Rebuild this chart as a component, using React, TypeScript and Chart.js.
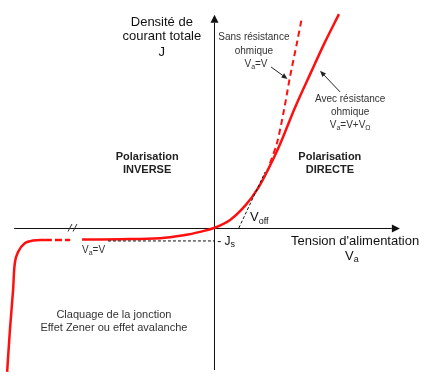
import React, { useEffect, useRef } from "react";
import { Chart, registerables } from "chart.js";
Chart.register(...registerables);

// Scale limits (arbitrary units, origin of the diagram at 0,0)
const X_MIN = -6.114;
const X_MAX = 6.0;
const Y_MIN = -4.257;
const Y_MAX = 6.514;

// Real characteristic (with ohmic resistance): Va = V + VΩ
const realX = [-3.77, -2.69, -1.54, -0.83, -0.4, 0, 0.46, 0.91, 1.26, 1.54, 1.89, 2.31, 2.8, 3.17, 3.57];
const realY = [-0.33, -0.32, -0.29, -0.2, -0.11, 0, 0.23, 0.66, 1.14, 1.66, 2.4, 3.43, 4.51, 5.31, 6.11];

// Ideal characteristic (no ohmic resistance): Va = V
const idealX = [1.6, 1.8, 2.0, 2.17, 2.37, 2.51];
const idealY = [1.85, 2.43, 3.37, 4.31, 5.29, 6.0];

// Reverse branch, dashed section after the axis break
const reverseDashX = [-4.83, -4.11];
const reverseDashY = [-0.34, -0.34];

// Breakdown (Zener / avalanche)
const breakdownX = [-5.91, -5.83, -5.74, -5.69, -5.6, -5.4, -5.17, -4.83];
const breakdownY = [-4.11, -2.91, -1.77, -1.0, -0.69, -0.43, -0.36, -0.34];

// Tangent giving Voff
const tangentX = [0.71, 1.46];
const tangentY = [0, 1.6];

// Saturation current -Js
const jsX = [-3.03, 0];
const jsY = [-0.37, -0.37];

// Axes extents
const axisXFrom = -5.71;
const axisXTo = 5.31;
const axisYFrom = -4.06;
const axisYTo = 6.09;
const breakX = -4.0;

const FONT = "'Liberation Sans', Arial, sans-serif";

type Run = { t: string; sub?: boolean };

function pts(xs: number[], ys: number[]) {
  return xs.map((x, i) => ({ x, y: ys[i] }));
}

function drawRuns(
  ctx: CanvasRenderingContext2D,
  runs: Run[],
  x: number,
  y: number,
  size: number,
  weight: string,
  color: string,
  align: "center" | "left" = "center"
) {
  const subSize = Math.round(size * 0.72);
  let w = 0;
  const widths = runs.map((r) => {
    ctx.font = `${weight} ${r.sub ? subSize : size}px ${FONT}`;
    const m = ctx.measureText(r.t).width;
    w += m;
    return m;
  });
  let cx = align === "center" ? x - w / 2 : x;
  ctx.fillStyle = color;
  ctx.textBaseline = "middle";
  ctx.textAlign = "left";
  runs.forEach((r, i) => {
    ctx.font = `${weight} ${r.sub ? subSize : size}px ${FONT}`;
    ctx.fillText(r.t, cx, r.sub ? y + size * 0.28 : y);
    cx += widths[i];
  });
}

function arrow(ctx: CanvasRenderingContext2D, x1: number, y1: number, x2: number, y2: number, len: number, half: number, color: string) {
  ctx.strokeStyle = color;
  ctx.fillStyle = color;
  ctx.lineWidth = 1;
  ctx.setLineDash([]);
  const a = Math.atan2(y2 - y1, x2 - x1);
  const bx = x2 - len * Math.cos(a);
  const by = y2 - len * Math.sin(a);
  ctx.beginPath();
  ctx.moveTo(x1, y1);
  ctx.lineTo(bx, by);
  ctx.stroke();
  ctx.beginPath();
  ctx.moveTo(x2, y2);
  ctx.lineTo(bx + half * Math.sin(a), by - half * Math.cos(a));
  ctx.lineTo(bx - half * Math.sin(a), by + half * Math.cos(a));
  ctx.closePath();
  ctx.fill();
}

const diagramPlugin = {
  id: "diagram",
  beforeDatasetsDraw(chart: any) {
    const ctx: CanvasRenderingContext2D = chart.ctx;
    const xs = chart.scales.x;
    const ys = chart.scales.y;
    const X = (v: number) => xs.getPixelForValue(v);
    const Y = (v: number) => ys.getPixelForValue(v);
    ctx.save();
    ctx.strokeStyle = "#222";
    ctx.lineWidth = 1;
    // horizontal axis
    arrow(ctx, X(axisXFrom), Y(0) + 0.5, X(axisXTo), Y(0) + 0.5, 8, 4, "#111");
    // vertical axis
    arrow(ctx, X(0) + 0.5, Y(axisYFrom), X(0) + 0.5, Y(axisYTo), 8, 4, "#111");
    // break marks
    ctx.strokeStyle = "#333";
    ctx.beginPath();
    const bx = X(breakX);
    const by = Y(0);
    ctx.moveTo(bx - 6, by + 3.5);
    ctx.lineTo(bx - 2, by - 4);
    ctx.moveTo(bx - 1, by + 3.5);
    ctx.lineTo(bx + 3, by - 4);
    ctx.stroke();
    ctx.restore();
  },
  afterDatasetsDraw(chart: any) {
    const ctx: CanvasRenderingContext2D = chart.ctx;
    const xs = chart.scales.x;
    const ys = chart.scales.y;
    const X = (v: number) => xs.getPixelForValue(v);
    const Y = (v: number) => ys.getPixelForValue(v);
    ctx.save();
    // titles
    drawRuns(ctx, [{ t: "Densité de" }], X(-1.49), Y(5.86), 13, "normal", "#111");
    drawRuns(ctx, [{ t: "courant totale" }], X(-1.49), Y(5.46), 13, "normal", "#111");
    drawRuns(ctx, [{ t: "J" }], X(-1.49), Y(5.03), 13, "normal", "#111");
    drawRuns(ctx, [{ t: "Tension d'alimentation" }], X(4.03), Y(-0.39), 13, "normal", "#111");
    drawRuns(ctx, [{ t: "V" }, { t: "a", sub: true }], X(3.94), Y(-0.8), 13, "normal", "#111");
    // regions
    drawRuns(ctx, [{ t: "Polarisation" }], X(-1.91), Y(2.03), 11, "bold", "#222");
    drawRuns(ctx, [{ t: "INVERSE" }], X(-1.91), Y(1.66), 11, "bold", "#222");
    drawRuns(ctx, [{ t: "Polarisation" }], X(3.31), Y(2.03), 11, "bold", "#222");
    drawRuns(ctx, [{ t: "DIRECTE" }], X(3.31), Y(1.66), 11, "bold", "#222");
    // ideal / real annotations
    drawRuns(ctx, [{ t: "Sans résistance" }], X(1.14), Y(5.44), 10, "normal", "#333");
    drawRuns(ctx, [{ t: "ohmique" }], X(1.14), Y(5.06), 10, "normal", "#333");
    drawRuns(ctx, [{ t: "V" }, { t: "a", sub: true }, { t: "=V" }], X(1.2), Y(4.69), 10, "normal", "#333");
    drawRuns(ctx, [{ t: "Avec résistance" }], X(3.89), Y(3.69), 10, "normal", "#333");
    drawRuns(ctx, [{ t: "ohmique" }], X(3.89), Y(3.31), 10, "normal", "#333");
    drawRuns(ctx, [{ t: "V" }, { t: "a", sub: true }, { t: "=V+V" }, { t: "Ω", sub: true }], X(3.89), Y(2.94), 10, "normal", "#333");
    arrow(ctx, X(1.63), Y(4.6), X(2.1), Y(4.26), 6, 2.5, "#222");
    arrow(ctx, X(3.6), Y(3.89), X(3.03), Y(4.49), 6, 2.5, "#222");
    // Voff, -Js, Va=V
    drawRuns(ctx, [{ t: "V" }, { t: "off", sub: true }], X(1.03), Y(0.29), 13, "normal", "#111", "left");
    drawRuns(ctx, [{ t: "- J" }, { t: "s", sub: true }], X(0.09), Y(-0.38), 12, "normal", "#111", "left");
    drawRuns(ctx, [{ t: "V" }, { t: "a", sub: true }, { t: "=V" }], X(-3.77), Y(-0.63), 10, "normal", "#333", "left");
    // breakdown
    drawRuns(ctx, [{ t: "Claquage de la jonction" }], X(-2.86), Y(-2.49), 11, "normal", "#333");
    drawRuns(ctx, [{ t: "Effet Zener ou effet avalanche" }], X(-2.86), Y(-2.86), 11, "normal", "#333");
    ctx.restore();
  },
};

export default function App() {
  const ref = useRef<HTMLCanvasElement>(null);
  useEffect(() => {
    document.body.style.margin = "0";
    document.body.style.background = "#fff";
    const red = "#ff1010";
    const base = { showLine: true, pointRadius: 0, fill: false };
    const chart = new Chart(ref.current!, {
      type: "scatter",
      data: {
        datasets: [
          { ...base, label: "-Js", data: pts(jsX, jsY), borderColor: "#111", borderWidth: 1, borderDash: [3, 2] },
          { ...base, label: "Voff", data: pts(tangentX, tangentY), borderColor: "#111", borderWidth: 1, borderDash: [3, 2] },
          { ...base, label: "Sans résistance", data: pts(idealX, idealY), borderColor: red, borderWidth: 2, borderDash: [6, 4], tension: 0.3 },
          { ...base, label: "Avec résistance", data: pts(realX, realY), borderColor: red, borderWidth: 2.5, tension: 0.35 },
          { ...base, label: "reverse", data: pts(reverseDashX, reverseDashY), borderColor: red, borderWidth: 2.5, borderDash: [7, 3] },
          { ...base, label: "claquage", data: pts(breakdownX, breakdownY), borderColor: red, borderWidth: 2.5, tension: 0.35 },
        ] as any,
      },
      options: {
        responsive: false,
        animation: false,
        layout: { padding: 0 },
        plugins: { legend: { display: false }, tooltip: { enabled: false } },
        scales: {
          x: { type: "linear", display: false, min: X_MIN, max: X_MAX },
          y: { type: "linear", display: false, min: Y_MIN, max: Y_MAX },
        },
      },
      plugins: [diagramPlugin],
    });
    return () => chart.destroy();
  }, []);
  return (
    <div style={{ position: "absolute", left: 0, top: 0, width: 424, height: 377, background: "#fff" }}>
      <canvas ref={ref} width={424} height={377} />
    </div>
  );
}
